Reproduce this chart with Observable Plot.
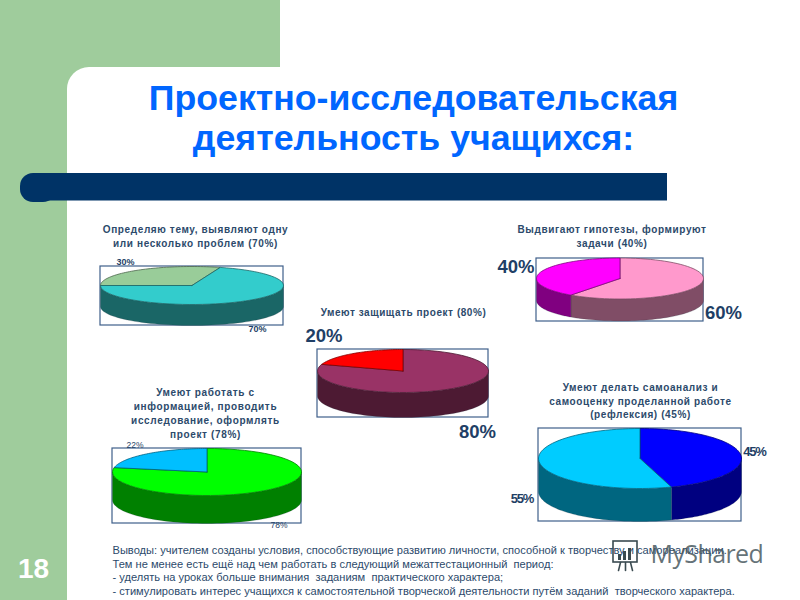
<!DOCTYPE html>
<html lang="ru"><head><meta charset="utf-8">
<script src="https://cdn.jsdelivr.net/npm/d3@7"></script>
<script src="https://cdn.jsdelivr.net/npm/@observablehq/plot@0.6"></script>
<style>html,body{margin:0;padding:0;background:#fff;overflow:hidden}svg{display:block}</style>
</head><body><div id="chart"></div>
<script>
// ---- data ----
const slideTitle = "Проектно-исследовательская\nдеятельность учащихся:";
const pageNumber = "18";
const pieTitles = [
  "Определяю тему, выявляют одну\nили несколько проблем (70%)",
  "Выдвигают гипотезы, формируют\nзадачи (40%)",
  "Умеют защищать проект (80%)",
  "Умеют работать с\nинформацией, проводить\nисследование, оформлять\nпроект (78%)",
  "Умеют делать самоанализ и\nсамооценку проделанной работе\n(рефлексия) (45%)"
];
const pieValues = [[30, 70], [60, 40], [80, 20], [78, 22], [45, 55]];
const pieStart = [270, 0, 0, 0, 0];
const topColors = [
  ["#99CC99", "#33CCCC"], ["#FF99CC", "#FF00FF"], ["#993366", "#FF0000"],
  ["#00FF00", "#00BFFF"], ["#0000FF", "#00CCFF"]
];
const sideColors = [
  ["#4d664d", "#1A6666"], ["#804D66", "#800080"], ["#4D1A33", "#800000"],
  ["#008000", "#006080"], ["#000080", "#006680"]
];
const conclusions = [
  "Выводы: учителем созданы условия, способствующие развитию личности, способной к творчеству и самореализации.",
  "Тем не менее есть ещё над чем работать в следующий межаттестационный  период:",
  "- уделять на уроках больше внимания  заданиям  практического характера;",
  "- стимулировать интерес учащихся к самостоятельной творческой деятельности путём заданий  творческого характера."
];

// ---- layout ----
const pieBoxes = [
  {cx: 191.5, cy: 285, rx: 91.5, ry: 19, d: 21, x1: 100, x2: 283, y1: 266, y2: 325},
  {cx: 619.5, cy: 278, rx: 83.5, ry: 20.5, d: 22, x1: 536, x2: 703, y1: 258, y2: 321},
  {cx: 402.5, cy: 370.5, rx: 85.5, ry: 21.5, d: 25, x1: 317, x2: 488, y1: 349, y2: 417},
  {cx: 206.5, cy: 471.5, rx: 94.5, ry: 23.5, d: 28, x1: 112, x2: 301, y1: 448, y2: 523},
  {cx: 639.5, cy: 458, rx: 101.5, ry: 30, d: 33, x1: 538, x2: 741, y1: 428, y2: 521}
];
const titleAt = [
  {x: 195, y: 223, size: 10, ls: 0.62}, {x: 611.5, y: 223, size: 10, ls: 0.63},
  {x: 403, y: 305.5, size: 10, ls: 0.55}, {x: 205, y: 386, size: 10, ls: 0.65},
  {x: 640, y: 380.5, size: 10, ls: 0.6}
];
const pctLabels = [
  {p: 0, i: 0, x: 125, y: 262, size: 9, w: "bold", ls: 0},
  {p: 0, i: 1, x: 257, y: 329, size: 9, w: "bold", ls: 0},
  {p: 1, i: 1, x: 515.5, y: 267, size: 18.5, w: "bold", ls: 0},
  {p: 1, i: 0, x: 723, y: 313, size: 18.5, w: "bold", ls: 0},
  {p: 2, i: 1, x: 323.5, y: 336, size: 18.5, w: "bold", ls: 0},
  {p: 2, i: 0, x: 477, y: 432, size: 18.5, w: "bold", ls: 0},
  {p: 3, i: 1, x: 134.5, y: 445, size: 8.5, w: "normal", ls: 0},
  {p: 3, i: 0, x: 278.5, y: 525, size: 8.5, w: "normal", ls: 0},
  {p: 4, i: 0, x: 754, y: 451, size: 13, w: "bold", ls: -1.2},
  {p: 4, i: 1, x: 521.5, y: 498, size: 13, w: "bold", ls: -1.2}
];

const SANS = "Liberation Sans";
const NAVY = "#1F3F66";
const rad = t => t * Math.PI / 180;
const rim = (b, t, dy = 0) => ({x: b.cx + b.rx * Math.sin(rad(t)), y: b.cy - b.ry * Math.cos(rad(t)) + dy});
const arc = (a, z) => d3.range(0, 61).map(k => a + (z - a) * k / 60);
const spacing = ls => function (index, scales, values, dims, ctx, next) {
  const g = next(index, scales, values, dims, ctx);
  g.style.letterSpacing = ls + "px";
  return g;
};

const sides = [], tops = [];
pieValues.forEach((vals, p) => {
  const b = pieBoxes[p];
  let a = pieStart[p];
  vals.forEach((v, i) => {
    const z = a + v * 3.6;
    tops.push(Plot.line([{x: b.cx, y: b.cy}, ...arc(a, z).map(t => rim(b, t)), {x: b.cx, y: b.cy}],
      {x: "x", y: "y", fill: topColors[p][i], stroke: sideColors[p][i], strokeWidth: 0.8, curve: "linear"}));
    // the visible rim is the part of the slice that lies on the front half
    [[90, 270], [450, 630]].forEach(([f0, f1]) => {
      const s = Math.max(a, f0), e = Math.min(z, f1);
      if (s < e) {
        const pts = arc(s, e);
        sides.push(Plot.line([...pts.map(t => rim(b, t)), ...pts.slice().reverse().map(t => rim(b, t, b.d)), rim(b, s)],
          {x: "x", y: "y", fill: sideColors[p][i], stroke: "#203040", strokeOpacity: 0.35, strokeWidth: 0.6, curve: "linear"}));
      }
    });
    a = z;
  });
});

const chart = Plot.plot({
  width: 800, height: 600, margin: 0,
  x: {domain: [0, 800], range: [0, 800], axis: null},
  y: {domain: [0, 600], range: [0, 600], axis: null},
  style: {background: "#fff"},
  marks: [
    // slide background
    Plot.rect([{a: 0, b: 280, c: 0, d: 100}, {a: 0, b: 67, c: 0, d: 600}],
      {x1: "a", x2: "b", y1: "c", y2: "d", fill: "#9FCC9C"}),
    Plot.rect([{a: 67, b: 860, c: 67, d: 660}], {x1: "a", x2: "b", y1: "c", y2: "d", fill: "#fff", r: 22}),
    Plot.rect([{a: 280, b: 800, c: 0, d: 67}], {x1: "a", x2: "b", y1: "c", y2: "d", fill: "#fff"}),
    Plot.rect([{a: 20, b: 56, c: 173, d: 202}], {x1: "a", x2: "b", y1: "c", y2: "d", fill: "#003366", r: 13}),
    Plot.rect([{a: 40, b: 667, c: 173, d: 200.5}], {x1: "a", x2: "b", y1: "c", y2: "d", fill: "#003366"}),
    Plot.text([slideTitle], {x: 413, y: 117, text: d => d, fill: "#0066FF", fontFamily: SANS, fontWeight: "bold",
      fontSize: 35.7, lineHeight: 1.1, textAnchor: "middle"}),
    Plot.text([pageNumber], {x: 33, y: 569, text: d => d, fill: "#fff", fontFamily: SANS, fontWeight: "bold", fontSize: 28}),
    // pies
    Plot.rect(pieBoxes, {x1: "x1", x2: "x2", y1: "y1", y2: "y2", fill: "none", stroke: "#3F5F8A", strokeWidth: 1.2}),
    ...sides, ...tops,
    // pie titles
    ...pieTitles.map((t, p) => Plot.text([t], {x: titleAt[p].x, y: titleAt[p].y, text: d => d, fill: "#2C4A6B", fontFamily: SANS,
      fontWeight: "bold", fontSize: titleAt[p].size, lineHeight: 1.38, textAnchor: "middle", lineAnchor: "top", render: spacing(titleAt[p].ls)})),
    // percent labels
    ...pctLabels.map(l => Plot.text([`${pieValues[l.p][l.i]}%`], {x: l.x, y: l.y, text: d => d, fill: NAVY, fontFamily: SANS,
      fontWeight: l.w, fontSize: l.size, textAnchor: "middle", render: spacing(l.ls)})),
    // conclusions
    Plot.text(conclusions, {x: 112, y: (d, i) => 553.5 + i * 13.7, text: d => d, fill: "#2C4A6B", fontFamily: SANS, fontSize: 11.1,
      textAnchor: "start", lineAnchor: "bottom"}),
    // watermark
    Plot.text(["MyShared"], {x: 650, y: 554, text: d => d, fill: "#4A5A60", fillOpacity: 0.85, fontFamily: "Open Sans", fontSize: 25,
      textAnchor: "start", render: spacing(-0.6)}),
    Plot.rect([{a: 613, b: 637, c: 541, d: 562}], {x1: "a", x2: "b", y1: "c", y2: "d", fill: "none", stroke: "#3A4A50", strokeWidth: 1.6}),
    Plot.rect([{a: 618, b: 621, c: 554, d: 560}, {a: 623, b: 626, c: 551, d: 560}, {a: 628, b: 631, c: 548, d: 560}],
      {x1: "a", x2: "b", y1: "c", y2: "d", fill: "#3A4A50"}),
    Plot.line([{x: 620, y: 562}, {x: 618, y: 570}], {x: "x", y: "y", stroke: "#3A4A50", strokeWidth: 1.6}),
    Plot.line([{x: 630, y: 562}, {x: 632, y: 570}], {x: "x", y: "y", stroke: "#3A4A50", strokeWidth: 1.6}),
    Plot.line([{x: 625, y: 562}, {x: 625, y: 570}], {x: "x", y: "y", stroke: "#3A4A50", strokeWidth: 1.6})
  ]
});
document.getElementById("chart").append(chart);
</script></body></html>
